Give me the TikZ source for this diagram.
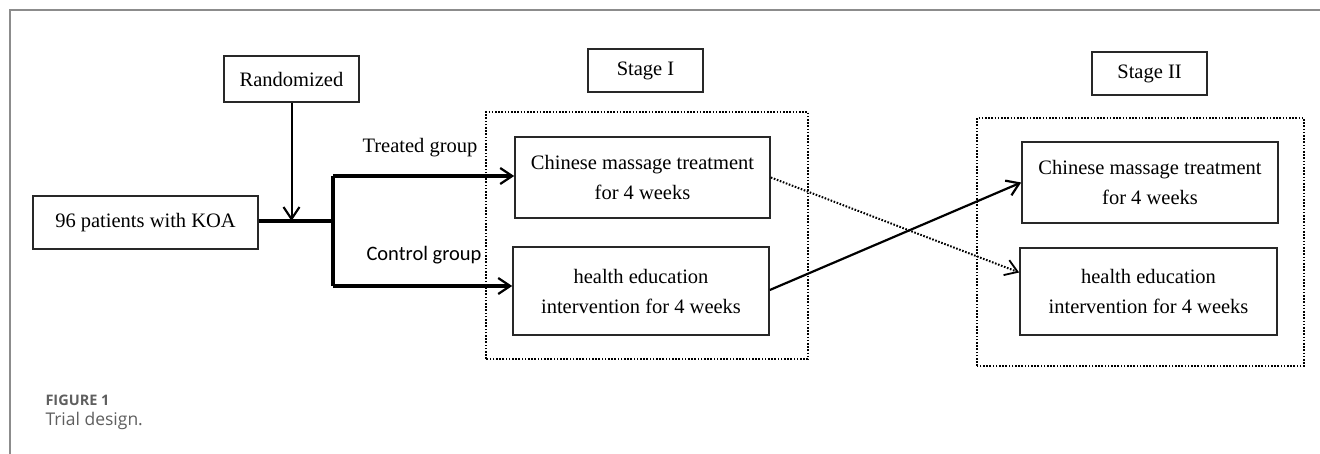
\documentclass[tikz,border=0pt]{standalone}
\usepackage{fontspec}
\setmainfont{Liberation Serif}
\newfontfamily\calfont{Carlito}
\newfontfamily\capfont{Open Sans}
\usepackage{tikz}
\usetikzlibrary{positioning}
\usetikzlibrary{calc}
\usetikzlibrary{arrows.meta}
\definecolor{framegray}{RGB}{140,140,140}
\definecolor{boxgray}{RGB}{40,40,40}
\definecolor{capgray}{RGB}{95,95,95}

\begin{document}
\begin{tikzpicture}[x=1pt, y=1pt,
    txt/.style={font=\fontsize{20.5}{30}\selectfont, align=center, inner sep=0pt},
    box/.style={txt, draw=boxgray, line width=1.7pt},
    tip/.style={-{Straight Barb[length=12pt, width=16pt, line width=2.2pt]}},
    thickline/.style={line width=3.4pt},
    dotline/.style={line width=2pt, dash pattern=on 1.6pt off 1.6pt}]
    \useasboundingbox (0,0) rectangle (1320,454);

    % Outer frame and caption
\draw[framegray, line width=2.2pt] (10,0) -- (10,444) -- (1320,444);
\node[anchor=base west, text=capgray, font=\capfont\bfseries\fontsize{14.5}{17}\selectfont] (fig) at (42,48) {FIGURE 1};
\node[anchor=base west, text=capgray, font=\capfont\fontsize{17.5}{21}\selectfont] (title) at (42,28) {Trial design.};

    % Boxes
\node[box, minimum width=135, minimum height=46] (rand) at (291.5,375) {Randomized};
\node[box, minimum width=225, minimum height=53] (pat) at (145.5,231.5) {96 patients with KOA};
\node[box, minimum width=115, minimum height=43] (stageI) at (645.5,383.5) {Stage I};
\node[box, minimum width=115, minimum height=43] (stageII) at (1149.5,380.5) {Stage II};
\node[box, minimum width=255, minimum height=81] (massI) at (642.5,276.5) {Chinese massage treatment\\for 4 weeks};
\node[box, minimum width=256, minimum height=88] (healthI) at (641,163) {health education\\intervention for 4 weeks};
\node[box, minimum width=256, minimum height=81] (massII) at (1150,271.5) {Chinese massage treatment\\for 4 weeks};
\node[box, minimum width=257, minimum height=87] (healthII) at (1148.5,162.5) {health education\\intervention for 4 weeks};

    % Stage frames
\draw[dotline] (486,95) rectangle (808,342);
\draw[dotline] (977,88) rectangle (1304,336);

    % Group labels
\node[txt] (treated) at (420,306) {Treated group};
\node[txt, font=\calfont\fontsize{20.5}{30}\selectfont] (control) at (424,199) {Control group};

    % Allocation
\coordinate (fork) at (333,233);
\draw[thickline] (pat.east |- fork) -- (fork);
\draw[line width=2pt, tip] (rand.south) -- (rand.south |- fork);
\draw[thickline] ($(fork)+(0,45)$) -- ($(fork)+(0,-65)$);
\draw[thickline, tip] ($(fork)+(0,45)$) -- ([yshift=1.5pt]massI.west);
\draw[thickline, tip] ($(fork)+(0,-65)$) -- ([yshift=5pt]healthI.west);

    % Crossover
\draw[line width=2.2pt, tip] ([yshift=1pt]healthI.east) -- (massII.west);
\draw[dotline, {-Straight Barb[length=12pt, width=16pt, line width=1.8pt]}] (massI.east) -- ([yshift=19pt]healthII.west);

\end{tikzpicture}
\end{document}
